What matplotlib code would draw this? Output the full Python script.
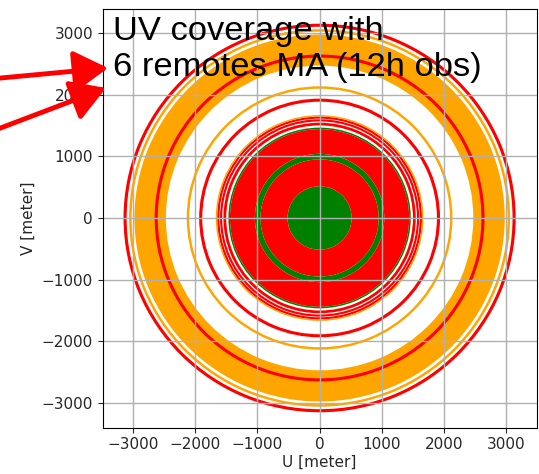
import matplotlib
matplotlib.use("Agg")
import matplotlib.pyplot as plt
from matplotlib.patches import Wedge

# UV coverage rings: inner radius, outer radius (meters) and colour
ring_inner = [0, 515, 950, 1040, 1440, 1500, 1565, 1610, 1645, 1885, 2095, 2470, 2600, 3020, 3100]
ring_outer = [515, 950, 1040, 1440, 1465, 1545, 1600, 1645, 1668, 1935, 2135, 2975, 2650, 3060, 3150]
ring_color = ["green", "red", "green", "red", "green", "red", "red", "red", "orange",
              "red", "orange", "orange", "red", "orange", "red"]

tick_values = [-3000, -2000, -1000, 0, 1000, 2000, 3000]
title_text = "UV coverage with\n6 remotes MA (12h obs)"

plt.rcParams["font.size"] = 11
plt.rcParams["text.color"] = "#262626"
plt.rcParams["axes.labelcolor"] = "#262626"
plt.rcParams["xtick.color"] = "#262626"
plt.rcParams["ytick.color"] = "#262626"

fig = plt.figure(figsize=(5.39, 4.74), dpi=100)
ax = fig.add_axes([0.1905, 0.0977, 0.8052, 0.8833])

for r0, r1, c in zip(ring_inner, ring_outer, ring_color):
    ax.add_patch(Wedge((0, 0), r1, 0, 360, width=r1 - r0, facecolor=c,
                       edgecolor="none", zorder=1))

ax.set_xlim(-3485, 3488)
ax.set_ylim(-3400, 3388)
ax.set_xticks(tick_values)
ax.set_yticks(tick_values)
ax.grid(True, color="#b0b0b0", lw=1.0)
ax.set_xlabel("U [meter]", labelpad=2)
ax.set_ylabel("V [meter]", labelpad=4)

ax.text(0.024, 0.983, title_text, transform=ax.transAxes, ha="left", va="top",
        fontsize=24.8, family="Liberation Sans", color="black", linespacing=1.2,
        zorder=5)

# red arrows pointing at the annotation
arrow_props = dict(arrowstyle="-|>,head_length=1.0,head_width=0.6",
                   mutation_scale=21, color="red", lw=3.5, shrinkA=0, shrinkB=0)
ax.annotate("", xy=(108, 406), xytext=(-10, 395), xycoords="figure pixels",
            textcoords="figure pixels", arrowprops=arrow_props, annotation_clip=False)
ax.annotate("", xy=(106, 386), xytext=(-10, 342), xycoords="figure pixels",
            textcoords="figure pixels", arrowprops=arrow_props, annotation_clip=False)

fig.savefig("out.png", dpi=100)
